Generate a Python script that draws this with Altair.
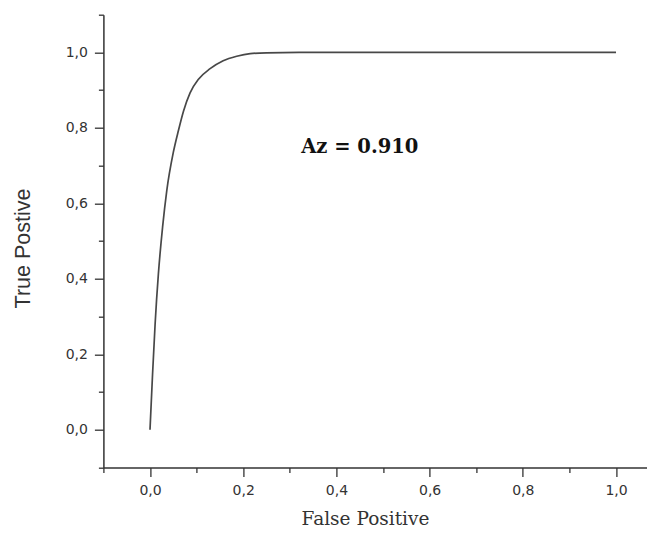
import altair as alt
import pandas as pd

# ROC curve
fpr = [0.0, 0.0055, 0.011, 0.018, 0.027, 0.036, 0.050, 0.061, 0.072, 0.086,
       0.104, 0.129, 0.157, 0.186, 0.215, 0.250, 0.320, 0.500, 0.750, 1.0]
tpr = [0.0, 0.148, 0.281, 0.413, 0.537, 0.634, 0.735, 0.793, 0.845, 0.893,
       0.929, 0.957, 0.978, 0.990, 0.997, 0.999, 1.0, 1.0, 1.0, 1.0]

x_major = [0.0, 0.2, 0.4, 0.6, 0.8, 1.0]
x_minor = [-0.1, 0.1, 0.3, 0.5, 0.7, 0.9]
y_major = [0.0, 0.2, 0.4, 0.6, 0.8, 1.0]
y_minor = [-0.1, 0.1, 0.3, 0.5, 0.7, 0.9, 1.1]

note_x = [0.3245]
note_y = [0.734]
note_text = ["Az = 0.910"]

curve = pd.DataFrame({"fp": fpr, "tp": tpr})
note = pd.DataFrame({"x": note_x, "y": note_y, "t": note_text})

label_expr = "replace(format(datum.value, '.1f'), '.', ',')"

x_axis_major = alt.Axis(
    orient="bottom", values=x_major, labelExpr=label_expr, grid=False,
    tickSize=9, tickWidth=1.3, tickColor="#333",
    domainColor="#333", domainWidth=1.5,
    labelFont="DejaVu Sans", labelFontSize=14, labelColor="#333",
    labelPadding=7, labelFlush=False, labelOverlap=False,
    title="False Positive", titleFont="DejaVu Serif", titleFontSize=18.5,
    titleFontWeight="normal", titleColor="#333",
    titleX=261.6, titleY=51, titleAlign="center", titleBaseline="middle",
)

x_axis_minor = alt.Axis(
    orient="bottom", values=x_minor, labels=False, domain=False, grid=False,
    tickSize=5, tickWidth=1.3, tickColor="#333", title=None,
)

y_axis_major = alt.Axis(
    orient="left", values=y_major, labelExpr=label_expr, grid=False,
    tickSize=9, tickWidth=1.3, tickColor="#333",
    domainColor="#333", domainWidth=1.5,
    labelFont="DejaVu Sans", labelFontSize=14, labelColor="#333",
    labelPadding=7, labelFlush=False, labelOverlap=False,
    title="True Postive", titleFont="Liberation Sans", titleFontSize=21.5,
    titleFontWeight="normal", titleColor="#333",
    titleX=-80.4, titleY=233.3, titleAngle=270,
    titleAlign="center", titleBaseline="middle",
)

y_axis_minor = alt.Axis(
    orient="left", values=y_minor, labels=False, domain=False, grid=False,
    tickSize=5, tickWidth=1.3, tickColor="#333", title=None,
)

x_scale = alt.Scale(domain=[-0.1, 1.0665], nice=False, zero=False)
y_scale = alt.Scale(domain=[-0.1, 1.1], nice=False, zero=False)

line = alt.Chart(curve).mark_line(
    color="#484848", strokeWidth=1.7, interpolate="monotone"
).encode(
    x=alt.X("fp:Q", scale=x_scale, axis=x_axis_major),
    y=alt.Y("tp:Q", scale=y_scale, axis=y_axis_major),
)

text = alt.Chart(note).mark_text(
    align="left", baseline="alphabetic", font="DejaVu Serif",
    fontSize=19.5, fontWeight="bold", color="#111"
).encode(
    x=alt.X("x:Q", scale=x_scale, axis=x_axis_minor),
    y=alt.Y("y:Q", scale=y_scale, axis=y_axis_minor),
    text="t:N",
)

chart = alt.layer(line, text).resolve_axis(x="independent", y="independent").properties(
    width=543.6, height=452.8,
    autosize=alt.AutoSizeParams(type="none"),
    padding={"left": 95.4, "top": 6.7, "right": 0, "bottom": 63},
    background="white",
).configure_view(stroke=None)

chart.save("out.html", embed_options={"renderer": "svg", "actions": False})
